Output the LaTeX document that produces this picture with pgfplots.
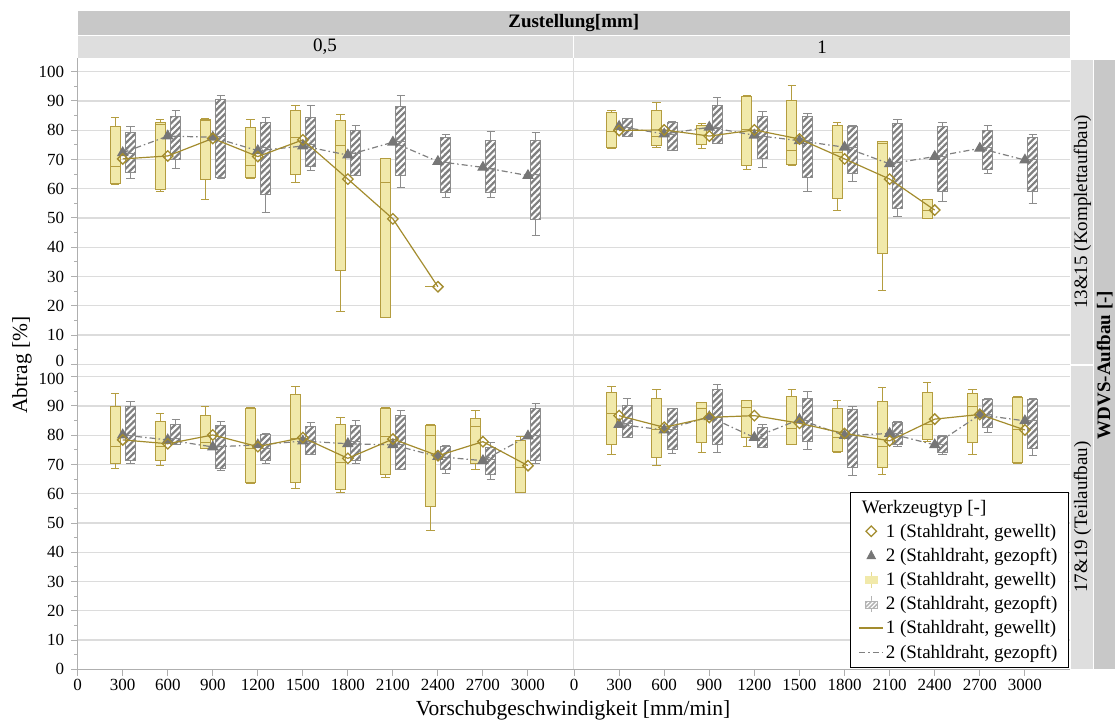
\documentclass[border=0pt]{standalone}
\usepackage{pgfplots}
\pgfplotsset{compat=1.18}
\usetikzlibrary{patterns.meta}
\usepackage{fontspec}
\setmainfont{Liberation Serif}

\definecolor{byellow}{RGB}{241,233,170}
\definecolor{bedge}{RGB}{180,157,64}
\definecolor{mline}{RGB}{163,140,46}
\definecolor{hgray}{RGB}{128,128,128}
\definecolor{hedge}{RGB}{140,140,140}
\definecolor{tgray}{RGB}{118,118,118}
\definecolor{gridc}{RGB}{220,220,220}
\definecolor{axc}{RGB}{175,175,175}
\definecolor{sdark}{RGB}{200,200,200}
\definecolor{slight}{RGB}{222,222,222}

\newcommand\TXT{\fontsize{19}{22}\selectfont}
\newcommand\TCK{\fontsize{17}{20}\selectfont}
\newcommand\LBL{\fontsize{21.5}{25}\selectfont}

\pgfplotsset{
  panel/.style={scale only axis, xmin=0, xmax=3300, ymin=0, clip=false,
    axis line style={draw=none}, ymajorgrids, grid style={gridc, line width=1.2pt},
    tick align=outside, major tick length=6.5pt, minor tick length=3.5pt,
    tick style={axc, line width=1pt},
    tick label style={font=\TCK}, yticklabel style={xshift=-3.5pt},
    /pgf/number format/assume math mode=true,
    /pgf/number format/1000 sep={}, xtick pos=bottom, ytick pos=left},
  toppanel/.style={panel, height=306pt, ymax=104.58, xtick=\empty},
  botpanel/.style={panel, height=303.3pt, ymax=103.66, xtick={0,300,...,3000}},
  lefttop/.style={width=495.3pt, ytick={10,20,...,100}, minor ytick={5,15,...,95},
    extra y ticks={0}, extra y tick style={grid=major, yticklabel style={yshift=3pt}}},
  leftbot/.style={width=495.3pt, ytick={0,10,...,90}, minor ytick={5,15,...,95},
    extra y ticks={100}, extra y tick style={grid=major, yticklabel style={yshift=-2pt}}},
  rightpanel/.style={width=496pt, ytick={0,10,...,100}, yticklabel={\mbox{}}, ytick style={draw=none}},
  ywhisk/.style={forget plot, bedge, line width=1pt, solid, mark=none, unbounded coords=jump},
  gwhisk/.style={forget plot, hedge, line width=1pt, solid, mark=none, unbounded coords=jump},
  ybox/.style={forget plot, draw=bedge, fill=byellow, line width=1pt, solid, mark=none},
  gbox/.style={forget plot, draw=hedge, fill=hgray, line width=1pt, solid, mark=none,
    postaction={pattern={Lines[angle=45,distance=4.5pt,line width=2pt]}, pattern color=white}},
  mean1/.style={forget plot, mline, line width=1.2pt, mark=square, mark size=3.7pt,
    mark options={rotate=45, fill=white, solid, line width=1.3pt}},
  mean2/.style={forget plot, hgray, line width=1.2pt, dash pattern=on 6pt off 3pt on 1.5pt off 3pt,
    mark=triangle*, mark size=5.5pt, mark options={solid, tgray, fill=tgray}},
}
% one box: #1 kind (y/g), #2 centre, #3 lower whisker, #4 lower quartile, #5 median, #6 upper quartile, #7 upper whisker
\newcommand\BX[7]{%
  \pgfmathsetmacro\xa{#2-33}\pgfmathsetmacro\xb{#2+33}%
  \pgfmathsetmacro\ca{#2-28}\pgfmathsetmacro\cb{#2+28}%
  \addplot[#1whisk] coordinates {(\ca,#3)(\cb,#3)(#2,nan)(#2,#3)(#2,#4)(#2,nan)(#2,#6)(#2,#7)(#2,nan)(\ca,#7)(\cb,#7)};
  \addplot[#1box] coordinates {(\xa,#4)(\xb,#4)(\xb,#6)(\xa,#6)} -- cycle;
  \addplot[#1whisk] coordinates {(\xa,#5)(\xb,#5)};
}
\newcommand\YB[6]{\pgfmathsetmacro\cx{#1-50}\BX{y}{\cx}{#2}{#3}{#4}{#5}{#6}}
\newcommand\GB[6]{\pgfmathsetmacro\cx{#1+53}\BX{g}{\cx}{#2}{#3}{#4}{#5}{#6}}

\begin{document}
\begin{tikzpicture}[x=1pt,y=1pt]
\path[use as bounding box] (0pt,0pt) rectangle (1115pt,724pt);

% ---------------- top left: 13&15, 0,5
\begin{axis}[toppanel, lefttop, at={(77.7pt,359.7pt)}, anchor=south west]
\YB{300}{61.6}{61.8}{67.5}{81.2}{84.4}
\YB{600}{59.2}{59.9}{82.0}{82.7}{83.5}
\YB{900}{56.4}{63.3}{83.2}{83.8}{84.1}
\YB{1200}{63.6}{63.9}{68.0}{80.8}{83.5}
\YB{1500}{62.0}{64.7}{77.6}{86.7}{88.4}
\YB{1800}{18.0}{32.0}{74.7}{83.2}{85.5}
\YB{2100}{15.9}{15.9}{62.3}{70.3}{70.3}
\YB{2400}{26.5}{26.5}{26.5}{26.5}{26.5}
\GB{300}{63.6}{65.6}{72.0}{79.3}{81.2}
\GB{600}{66.9}{70.1}{78.0}{84.6}{86.7}
\GB{900}{63.6}{63.9}{78.0}{90.6}{92.0}
\GB{1200}{51.9}{57.9}{74.0}{82.8}{84.4}
\GB{1500}{66.4}{67.5}{75.0}{84.4}{88.4}
\GB{1800}{64.4}{64.4}{72.0}{80.0}{81.6}
\GB{2100}{60.4}{64.4}{76.0}{88.0}{92.0}
\GB{2400}{56.9}{58.8}{69.0}{77.6}{78.5}
\GB{2700}{56.9}{58.8}{67.0}{76.5}{79.6}
\GB{3000}{44.1}{49.5}{65.0}{76.5}{79.2}
\addplot[mean2] coordinates {(300,72.3)(600,78.0)(900,77.6)(1200,73.0)(1500,74.6)(1800,71.5)(2100,75.9)(2400,69.3)(2700,67.3)(3000,64.5)};
\addplot[mean1] coordinates {(300,70.2)(600,71.2)(900,77.2)(1200,71.0)(1500,76.7)(1800,63.3)(2100,49.7)(2400,26.5)};
\end{axis}

% ---------------- top right: 13&15, 1
\begin{axis}[toppanel, rightpanel, at={(574pt,359.7pt)}, anchor=south west]
\YB{300}{73.9}{74.2}{79.4}{86.1}{86.7}
\YB{600}{74.0}{74.7}{78.0}{86.7}{89.5}
\YB{900}{73.6}{75.2}{80.6}{81.6}{82.4}
\YB{1200}{66.7}{67.8}{80.3}{91.4}{91.7}
\YB{1500}{67.8}{68.3}{73.0}{90.0}{95.2}
\YB{1800}{52.7}{56.5}{72.3}{81.6}{82.7}
\YB{2100}{25.2}{38.0}{75.5}{76.1}{76.1}
\YB{2400}{49.7}{49.7}{52.7}{56.2}{56.2}
\GB{300}{77.8}{78.0}{81.0}{83.9}{84.1}
\GB{600}{73.1}{73.2}{78.5}{82.8}{82.9}
\GB{900}{75.3}{75.5}{81.0}{88.5}{91.1}
\GB{1200}{67.2}{70.3}{78.0}{84.6}{86.3}
\GB{1500}{59.2}{63.9}{76.5}{84.6}{85.7}
\GB{1800}{62.4}{65.3}{74.0}{81.4}{81.6}
\GB{2100}{50.5}{53.3}{69.0}{82.4}{83.5}
\GB{2400}{55.6}{59.2}{71.0}{81.2}{82.7}
\GB{2700}{65.3}{66.7}{74.0}{79.9}{81.5}
\GB{3000}{54.8}{59.2}{70.0}{77.6}{78.7}
\addplot[mean2] coordinates {(300,81.3)(600,78.7)(900,81.0)(1200,78.3)(1500,76.4)(1800,74.2)(2100,68.5)(2400,71.0)(2700,73.8)(3000,69.8)};
\addplot[mean1] coordinates {(300,79.9)(600,80.1)(900,78.0)(1200,80.1)(1500,77.0)(1800,70.2)(2100,63.3)(2400,52.7)};
\end{axis}

% ---------------- bottom left: 17&19, 0,5
\begin{axis}[botpanel, leftbot, at={(77.7pt,54.7pt)}, anchor=south west]
\YB{300}{68.6}{70.3}{76.0}{89.8}{94.2}
\YB{600}{69.8}{71.5}{76.3}{84.6}{87.4}
\YB{900}{75.3}{75.5}{77.6}{86.9}{89.8}
\YB{1200}{63.6}{63.9}{75.5}{89.2}{89.5}
\YB{1500}{61.8}{63.9}{79.0}{93.8}{96.6}
\YB{1800}{60.4}{61.5}{70.6}{83.8}{86.2}
\YB{2100}{65.5}{66.7}{79.5}{89.2}{89.4}
\YB{2400}{47.5}{55.6}{79.8}{83.2}{83.8}
\YB{2700}{68.3}{70.4}{83.0}{85.8}{88.6}
\YB{3000}{60.4}{60.4}{69.0}{78.1}{79.5}
\GB{300}{70.3}{71.3}{80.0}{89.8}{91.5}
\GB{600}{76.7}{76.7}{79.0}{83.8}{85.4}
\GB{900}{67.9}{68.7}{76.0}{83.3}{84.6}
\GB{1200}{70.2}{71.4}{75.5}{80.1}{80.6}
\GB{1500}{73.3}{73.5}{78.0}{82.9}{84.3}
\GB{1800}{70.4}{71.3}{78.0}{83.4}{85.1}
\GB{2100}{68.3}{68.3}{77.0}{86.7}{88.3}
\GB{2400}{67.0}{68.3}{72.5}{76.3}{76.4}
\GB{2700}{65.0}{66.6}{71.7}{75.9}{77.5}
\GB{3000}{70.3}{71.3}{80.0}{89.2}{91.0}
\addplot[mean2] coordinates {(300,80.1)(600,78.4)(900,76.0)(1200,76.7)(1500,78.0)(1800,77.1)(2100,76.7)(2400,72.7)(2700,71.3)(3000,79.7)};
\addplot[mean1] coordinates {(300,78.4)(600,77.1)(900,80.1)(1200,76.1)(1500,79.2)(1800,72.1)(2100,78.7)(2400,73.0)(2700,77.8)(3000,69.6)};
\end{axis}

% ---------------- bottom right: 17&19, 1
\begin{axis}[botpanel, rightpanel, at={(574pt,54.7pt)}, anchor=south west,
  legend style={at={(0.996,0.005)}, anchor=south east, draw=black, fill=white, font=\TXT,
    cells={anchor=west}, row sep=5.4pt, inner xsep=8.5pt, inner ysep=6pt}]
\YB{300}{73.5}{76.7}{87.5}{94.7}{96.6}
\YB{600}{69.8}{72.3}{82.0}{92.6}{95.5}
\YB{900}{74.2}{77.5}{89.2}{91.1}{91.1}
\YB{1200}{76.3}{79.2}{89.5}{91.9}{91.9}
\YB{1500}{76.7}{76.7}{82.4}{93.1}{95.8}
\YB{1800}{74.2}{74.6}{79.3}{89.2}{92.0}
\YB{2100}{66.7}{69.0}{76.1}{91.5}{96.3}
\YB{2400}{78.0}{78.4}{83.5}{94.7}{98.0}
\YB{2700}{73.5}{77.5}{89.8}{94.1}{95.5}
\YB{3000}{70.4}{70.7}{82.0}{92.8}{93.2}
\GB{300}{79.2}{79.2}{84.0}{90.1}{92.6}
\GB{600}{73.9}{75.0}{82.0}{89.0}{89.3}
\GB{900}{74.2}{76.7}{86.0}{95.7}{97.4}
\GB{1200}{75.9}{75.9}{79.0}{82.7}{83.8}
\GB{1500}{75.0}{77.8}{85.0}{92.6}{95.1}
\GB{1800}{66.1}{69.0}{80.0}{88.8}{89.8}
\GB{2100}{76.3}{76.7}{80.5}{84.3}{84.6}
\GB{2400}{73.5}{74.2}{77.0}{79.5}{79.8}
\GB{2700}{81.0}{82.7}{87.0}{92.3}{92.5}
\GB{3000}{73.2}{75.5}{85.0}{92.3}{92.6}
\addplot[mean2] coordinates {(300,83.7)(600,81.8)(900,86.3)(1200,79.2)(1500,85.4)(1800,79.9)(2100,80.6)(2400,76.7)(2700,87.0)(3000,84.9)};
\addplot[mean1] coordinates {(300,86.7)(600,82.7)(900,86.1)(1200,86.7)(1500,84.1)(1800,80.6)(2100,78.1)(2400,85.5)(2700,87.1)(3000,81.8)};

\addlegendimage{empty legend}
\addlegendentry{\hspace{-24pt}Werkzeugtyp [-]}
\addlegendimage{legend image code/.code={\draw[mline, fill=white, line width=1.3pt] (12pt,5.2pt) -- (17.2pt,0pt) -- (12pt,-5.2pt) -- (6.8pt,0pt) -- cycle;}}
\addlegendentry{1 (Stahldraht, gewellt)}
\addlegendimage{legend image code/.code={\fill[tgray] (12pt,5pt) -- (16.5pt,-3.5pt) -- (7.5pt,-3.5pt) -- cycle;}}
\addlegendentry{2 (Stahldraht, gezopft)}
\addlegendimage{legend image code/.code={\draw[byellow!80!bedge, line width=1.2pt] (12pt,-8pt) -- (12pt,8pt); \fill[byellow] (6pt,-4pt) rectangle (18pt,3pt);}}
\addlegendentry{1 (Stahldraht, gewellt)}
\addlegendimage{legend image code/.code={\draw[hgray!60, line width=1.2pt] (12pt,-8pt) -- (12pt,8pt); \fill[hgray!60, postaction={pattern={Lines[angle=45,distance=3pt,line width=1.2pt]}, pattern color=white}] (6pt,-4pt) rectangle (18pt,3pt);}}
\addlegendentry{2 (Stahldraht, gezopft)}
\addlegendimage{legend image code/.code={\draw[mline, line width=1.2pt] (0pt,0pt) -- (24pt,0pt);}}
\addlegendentry{1 (Stahldraht, gewellt)}
\addlegendimage{legend image code/.code={\draw[hgray, line width=1.2pt, dash pattern=on 6pt off 3pt on 1.5pt off 3pt] (0pt,0pt) -- (24pt,0pt);}}
\addlegendentry{2 (Stahldraht, gezopft)}
\end{axis}

% ---------------- frame, separators, strips
\draw[gridc, line width=1.5pt] (573.5pt,54.7pt) -- (573.5pt,665.7pt);
\draw[axc, line width=1.2pt] (77.7pt,54.7pt) -- (77.7pt,665.7pt);
\draw[axc, line width=1.2pt] (77.7pt,54.7pt) -- (1070pt,54.7pt);

\fill[sdark] (77.7pt,689pt) rectangle (1070pt,712.5pt);
\node[font=\TXT\bfseries] at (573.8pt,701pt) {Zustellung[mm]};
\fill[slight] (77.7pt,666.2pt) rectangle (572.8pt,688pt);
\fill[slight] (574.2pt,666.2pt) rectangle (1070pt,688pt);
\node[font=\TXT] at (325pt,677pt) {0,5};
\node[font=\TXT] at (822pt,677pt) {1};
\fill[slight] (1071pt,360.5pt) rectangle (1093pt,664pt);
\fill[slight] (1071pt,54.7pt) rectangle (1093pt,358.5pt);
\fill[sdark] (1094pt,54.7pt) rectangle (1115pt,664pt);
\node[font=\TXT, rotate=90] at (1082.5pt,512pt) {13\&15 (Komplettaufbau)};
\node[font=\TXT, rotate=90] at (1082.5pt,207pt) {17\&19 (Teilaufbau)};
\node[font=\TXT\bfseries, rotate=90] at (1104.8pt,359pt) {WDVS-Aufbau [-]};

\node[font=\LBL, rotate=90] at (22pt,359pt) {Abtrag [\%]};
\node[font=\LBL] at (573pt,14pt) {Vorschubgeschwindigkeit [mm/min]};
\end{tikzpicture}
\end{document}
